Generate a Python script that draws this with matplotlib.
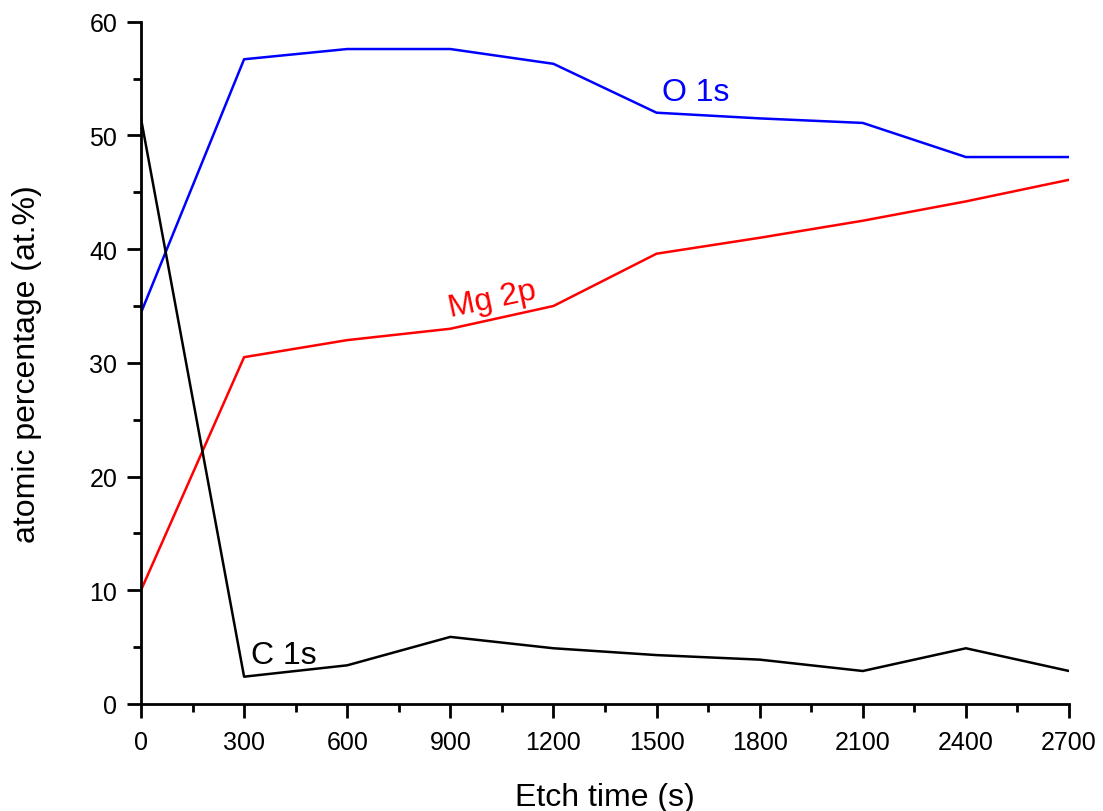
import matplotlib
matplotlib.use("Agg")
import matplotlib.pyplot as plt
from matplotlib.ticker import MultipleLocator

plt.rcParams['font.family'] = ['Liberation Sans', 'DejaVu Sans']

# Etch time (s)
etch_time = [0, 300, 600, 900, 1200, 1500, 1800, 2100, 2400, 2700]
# atomic percentages
o_1s = [34.4, 56.7, 57.6, 57.6, 56.3, 52.0, 51.5, 51.1, 48.1, 48.1]
mg_2p = [10.0, 30.5, 32.0, 33.0, 35.0, 39.6, 41.0, 42.5, 44.2, 46.1]
c_1s = [51.5, 2.4, 3.4, 5.9, 4.9, 4.3, 3.9, 2.9, 4.9, 2.9]

fig = plt.figure(figsize=(11.03, 8.12), dpi=100)
ax = fig.add_axes([0.1278, 0.1318, 0.8414, 0.8402])

ax.plot(etch_time, o_1s, color="#0000ff", lw=1.8)
ax.plot(etch_time, mg_2p, color="#ff0000", lw=1.8)
ax.plot(etch_time, c_1s, color="black", lw=1.8)

ax.text(1613, 53.8, "O 1s", color="#0000ff", fontsize=23, ha="center", va="center")
ax.text(1022, 35.6, "Mg 2p", color="#ff0000", fontsize=23, ha="center", va="center", rotation=12)
ax.text(417, 4.3, "C 1s", color="black", fontsize=23, ha="center", va="center")

ax.set_xlim(0, 2700)
ax.set_ylim(0, 60)
ax.xaxis.set_major_locator(MultipleLocator(300))
ax.xaxis.set_minor_locator(MultipleLocator(150))
ax.yaxis.set_major_locator(MultipleLocator(10))
ax.yaxis.set_minor_locator(MultipleLocator(5))

ax.spines["top"].set_visible(False)
ax.spines["right"].set_visible(False)
ax.spines["left"].set_linewidth(2)
ax.spines["bottom"].set_linewidth(2)
ax.tick_params(which="major", direction="out", length=10, width=2, labelsize=18)
ax.tick_params(which="minor", direction="out", length=6, width=2)
ax.tick_params(axis="x", pad=9)
ax.tick_params(axis="y", pad=7)

ax.set_xlabel("Etch time (s)", fontsize=23, labelpad=20)
ax.set_ylabel("atomic percentage (at.%)", fontsize=23, labelpad=34)

fig.savefig("out.png", dpi=100)
